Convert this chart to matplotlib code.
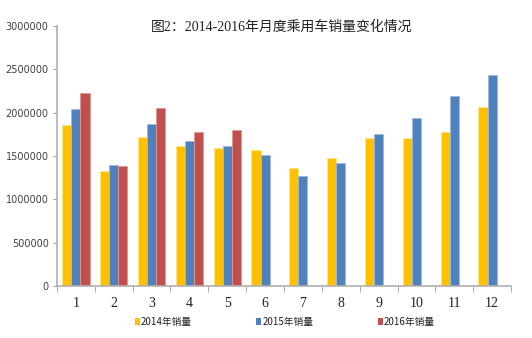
import matplotlib
matplotlib.use('Agg')
import matplotlib.pyplot as plt
import numpy as np
from matplotlib.patches import Patch

plt.rcParams['font.family'] = ['Noto Sans CJK SC', 'DejaVu Sans']

months = ['1', '2', '3', '4', '5', '6', '7', '8', '9', '10', '11', '12']
sales_2014 = [1854000, 1323000, 1719000, 1615000, 1592000, 1569000,
              1361000, 1473000, 1704000, 1711000, 1780000, 2069000]
sales_2015 = [2039000, 1393000, 1869000, 1669000, 1611000, 1515000,
              1269000, 1416000, 1750000, 1935000, 2196000, 2438000]
sales_2016 = [2223000, 1381000, 2054000, 1780000, 1796000]
labels = ['2014年销量', '2015年销量', '2016年销量']
colors = ['#FFC000', '#4F81BD', '#C0504D']
edges = ['#FFE58A', '#9DB8DE', '#E29896']

fig = plt.figure(figsize=(5.32, 3.38), dpi=100)
ax = fig.add_axes([57 / 532, 52 / 338, 454 / 532, 260 / 338])

x = np.arange(len(months))
w = 0.24
ax.bar(x - w, sales_2014, w, color=colors[0], edgecolor=edges[0], linewidth=0.6)
ax.bar(x, sales_2015, w, color=colors[1], edgecolor=edges[1], linewidth=0.6)
ax.bar(np.arange(len(sales_2016)) + w, sales_2016, w, color=colors[2],
       edgecolor=edges[2], linewidth=0.6)

ax.set_xlim(-0.5, 11.2)
ax.set_ylim(0, 3000000)
ax.set_yticks(np.arange(0, 3000001, 500000))
ax.set_yticklabels([str(v) for v in range(0, 3000001, 500000)],
                   fontsize=7, color='#404040', family='DejaVu Sans')

ax.set_xticks(x)
ax.set_xticklabels(months, fontsize=10, family='Liberation Serif', color='#222222')
ax.set_xticks(np.arange(-0.5, 11.6, 1), minor=True)
ax.tick_params(axis='x', which='major', length=0, pad=8)
ax.tick_params(axis='x', which='minor', length=4, color='#a0a0a0', direction='out')
ax.tick_params(axis='y', length=3, color='#a0a0a0', pad=3)

for s in ['top', 'right']:
    ax.spines[s].set_visible(False)
for s in ['left', 'bottom']:
    ax.spines[s].set_color('#b0b0b0')
    ax.spines[s].set_linewidth(1.2)

fig.text(282 / 532, 1 - 27 / 338, '图2：2014-2016年月度乘用车销量变化情况',
         ha='center', va='center', fontsize=10, color='#222222',
         family=['Liberation Serif', 'Noto Sans CJK SC'])

handles = [Patch(facecolor=c, edgecolor='none') for c in colors]
fig.legend(handles, labels, loc='center', bbox_to_anchor=(285 / 532, 1 - 322 / 338),
           ncol=3, frameon=False, fontsize=7, handlelength=0.5, handleheight=0.6,
           handletextpad=0.15, columnspacing=6.6, labelcolor='#222222')

fig.savefig('out.png', dpi=100)
